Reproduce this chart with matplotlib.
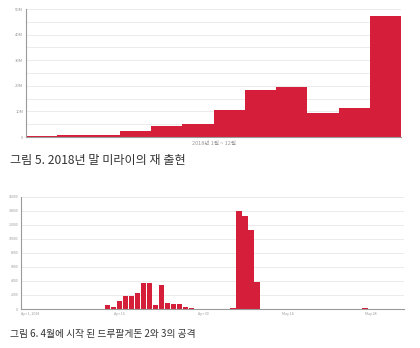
import matplotlib
matplotlib.use('Agg')
import matplotlib.pyplot as plt
from matplotlib.ticker import FuncFormatter

plt.rcParams['font.family'] = ['Noto Sans CJK KR', 'DejaVu Sans']

#region: Data
# Fig 5 - Mirai monthly counts 2018 (millions)
months = list(range(1, 13))
mirai_m = [0.5, 0.8, 0.8, 2.3, 4.2, 5.2, 10.4, 18.4, 19.7, 9.5, 11.2, 47.4]

# Fig 6 - Drupalgeddon 2/3 daily attacks
drupal_days = list(range(64))
drupal_hits = [0] * 14 + [600, 300, 1200, 1850, 1850, 2300, 3650, 3650, 550, 3450,
                          800, 700, 700, 300, 150] \
    + [0] * 6 + [200, 14000, 13200, 11300, 3900] \
    + [30] * 10 + [0] + [30] * 4 + [0, 0, 150, 0, 0] + [30] * 4
drupal_yticks = list(range(0, 16001, 2000))
drupal_xtick_days = [1, 16, 30, 44, 58]
drupal_xtick_labels = ['Apr 1, 2018', 'Apr 16', 'Apr 30', 'May 14', 'May 28']
#endregion

RED = '#d51f3a'
GRID = '#ebebeb'
SPINE = '#9a9a9a'
TXT = '#9a9a9a'


def style_ax(ax):
    for s in ['top', 'right']:
        ax.spines[s].set_visible(False)
    for s in ['left', 'bottom']:
        ax.spines[s].set_color(SPINE)
        ax.spines[s].set_linewidth(0.8)
    ax.grid(axis='y', color=GRID, linewidth=0.7)
    ax.set_axisbelow(True)
    ax.tick_params(length=0, labelsize=3, colors=TXT, pad=2)


fig = plt.figure(figsize=(4.2, 3.48), dpi=100)

# top chart
ax1 = fig.add_axes([0.062, 0.606, 0.893, 0.368])
ax1.bar(months, mirai_m, width=1.0, color=RED, linewidth=0)
ax1.set_xlim(0.5, 12.5)
ax1.set_ylim(0, 50)
ax1.set_yticks(range(0, 51, 5))
ax1.yaxis.set_major_formatter(FuncFormatter(lambda v, p: '' if v % 10 else ('0' if v == 0 else '%dM' % v)))
ax1.set_xticks([])
style_ax(ax1)
ax1.set_xlabel('2018년 1월 ~ 12월', fontsize=4, color=TXT, labelpad=2.5)

fig.text(0.024, 0.54, '그림 5. 2018년 말 미라이의 재 출현', fontsize=8.7, color='#333333', va='center')

# bottom chart
ax2 = fig.add_axes([0.05, 0.112, 0.912, 0.323])
ax2.bar(drupal_days, drupal_hits, width=0.92, color=RED, linewidth=0, align='edge')
ax2.set_xlim(0, 64)
ax2.set_ylim(0, 16000)
ax2.set_yticks(drupal_yticks)
ax2.set_xticks([d + 0.5 for d in drupal_xtick_days])
ax2.set_xticklabels(drupal_xtick_labels)
style_ax(ax2)
ax2.tick_params(labelsize=2.6)

fig.text(0.024, 0.04, '그림 6. 4월에 시작 된 드루팔게돈 2와 3의 공격', fontsize=7.0, color='#333333', va='center')

fig.savefig('out.png', dpi=100, facecolor='white')
